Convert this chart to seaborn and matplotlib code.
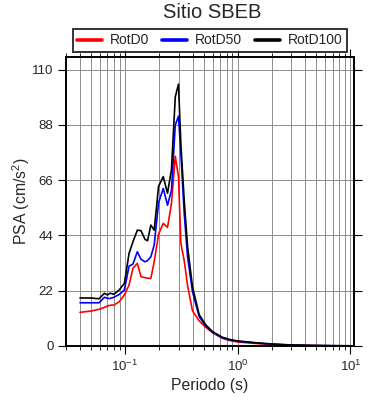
import matplotlib
matplotlib.use("Agg")
import matplotlib.pyplot as plt
from matplotlib.ticker import LogLocator, FixedLocator
import numpy as np
import pandas as pd
import seaborn as sns

# --------------------
# Data
# --------------------

periods = [0.04, 0.05, 0.059, 0.066, 0.070, 0.074, 0.080, 0.089, 0.099, 0.109,
           0.118, 0.129, 0.139, 0.151, 0.159, 0.170, 0.182, 0.199, 0.219, 0.239,
           0.259, 0.280, 0.299, 0.314, 0.336, 0.36, 0.398, 0.456, 0.52, 0.6,
           0.73, 0.85, 1.0, 1.45, 2.0, 3.0, 5.0, 7.0, 10.0]

rotd0 = [13.4, 13.9, 14.6, 15.4, 15.9, 16.2, 16.3, 17.6, 20.3, 24.3,
         30.9, 32.9, 27.6, 27.2, 27.0, 26.9, 33.5, 44.5, 48.8, 47.2,
         56.7, 75.5, 67.3, 40.8, 34.0, 24.0, 14.0, 10.0, 7.5, 5.3,
         3.1, 2.2, 1.6, 1.0, 0.6, 0.3, 0.15, 0.09, 0.06]

rotd50 = [17.2, 17.2, 17.2, 19.4, 19.0, 18.9, 19.4, 20.5, 22.3, 31.8,
          32.6, 37.5, 34.5, 33.5, 34.0, 35.5, 40.2, 57.0, 62.7, 56.0,
          62.0, 87.9, 91.5, 76.6, 52.8, 35.5, 21.6, 11.7, 8.0, 5.4,
          3.3, 2.4, 1.9, 1.2, 0.75, 0.37, 0.18, 0.11, 0.07]

rotd100 = [19.1, 19.1, 18.8, 21.0, 20.3, 21.0, 20.6, 22.3, 24.9, 36.9,
           41.5, 46.1, 45.9, 42.4, 41.9, 48.1, 46.1, 63.5, 67.4, 60.8,
           70.2, 99.1, 104.2, 80.0, 58.0, 39.5, 23.5, 12.5, 8.5, 5.7,
           3.5, 2.6, 2.0, 1.3, 0.8, 0.4, 0.2, 0.12, 0.08]

series_names = ['RotD0', 'RotD50', 'RotD100']
colors = ['#ff0000', '#0000ff', '#000000']
yticks = [0, 22, 44, 66, 88, 110]

df = pd.DataFrame({
    'Periodo': periods * 3,
    'PSA': rotd0 + rotd50 + rotd100,
    'serie': [n for n in series_names for _ in periods],
})

# --------------------
# Style
# --------------------

sns.set_style("ticks")
plt.rcParams['font.family'] = ['Liberation Sans', 'DejaVu Sans']
plt.rcParams['mathtext.fontset'] = 'custom'
plt.rcParams['mathtext.rm'] = 'Liberation Sans'
plt.rcParams['mathtext.it'] = 'Liberation Sans:italic'

fig = plt.figure(figsize=(3.9, 4.0), dpi=100)
ax = fig.add_axes([0.169, 0.135, 0.739, 0.7225])

sns.lineplot(data=df, x='Periodo', y='PSA', hue='serie', hue_order=series_names,
             palette=colors, linewidth=1.2, ax=ax, legend=False, sort=False,
             estimator=None)

ax.set_xscale('log')
ax.set_xlim(0.03, 10.8)
ax.set_ylim(0, 115)

ax.xaxis.set_major_locator(LogLocator(base=10, numticks=10))
ax.xaxis.set_minor_locator(LogLocator(base=10, subs=np.arange(2, 10), numticks=20))
ax.yaxis.set_major_locator(FixedLocator(yticks))

ax.grid(True, which='both', axis='x', color='#8c8c8c', linewidth=0.7)
ax.grid(True, which='major', axis='y', color='#8c8c8c', linewidth=0.7)
ax.set_axisbelow(True)

ax.tick_params(which='both', direction='out', top=True, right=True,
               labelsize=9.5, color='black')
ax.tick_params(which='major', length=6, width=0.8, pad=3)
ax.tick_params(which='minor', length=3, width=0.6)
for s in ax.spines.values():
    s.set_linewidth(1.4)
    s.set_color('black')

ax.set_xlabel('Periodo (s)', fontsize=11.3, labelpad=3)
ax.set_ylabel('PSA (cm/s$^2$)', fontsize=11.3, labelpad=0)
fig.text(0.543, 0.9675, 'Sitio SBEB', ha='center', va='center', fontsize=14.5)

handles = [plt.Line2D([], [], color=c, linewidth=2.6) for c in colors]
leg = fig.legend(handles, series_names, loc='center', bbox_to_anchor=(0.538, 0.899),
                 ncol=3, fontsize=10, frameon=True, fancybox=False,
                 handlelength=1.8, columnspacing=0.9, borderpad=0.3,
                 handletextpad=0.6, borderaxespad=0)
leg.get_frame().set_edgecolor('black')
leg.get_frame().set_linewidth(1.4)

plt.savefig('out.png', dpi=100)
